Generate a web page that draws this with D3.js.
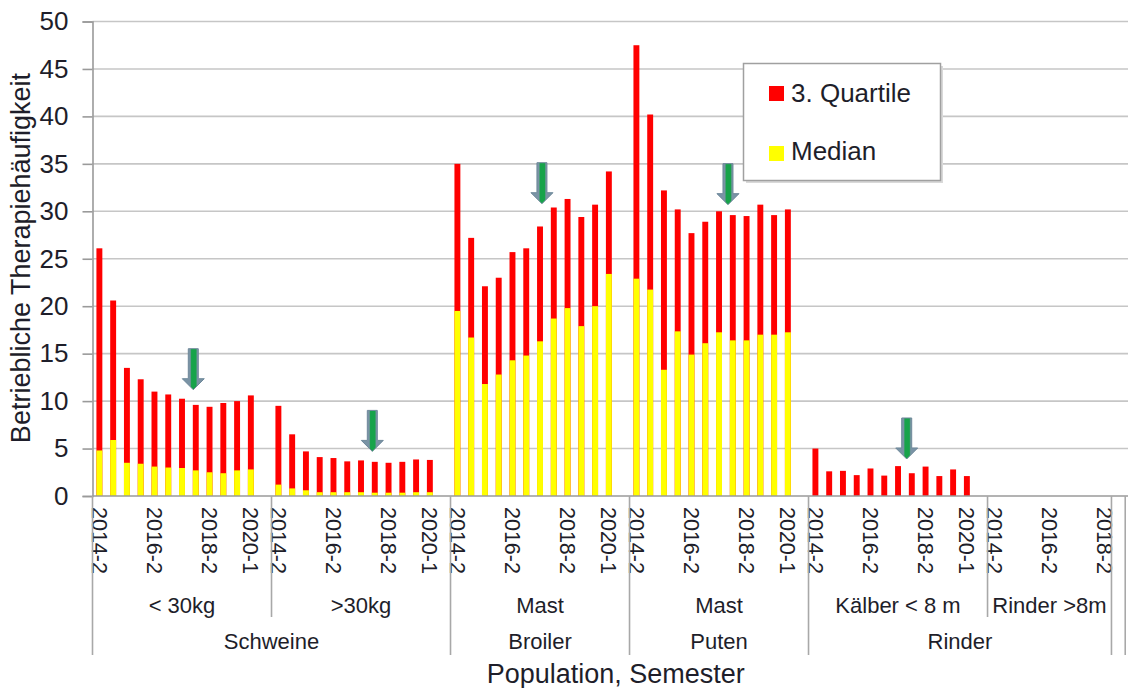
<!DOCTYPE html>
<html>
<head>
<meta charset="utf-8">
<script src="https://cdn.jsdelivr.net/npm/d3@7"></script>
<style>
  html, body { margin: 0; padding: 0; background: #fff; }
  svg { display: block; font-family: "Liberation Sans", Arial, sans-serif; }
</style>
</head>
<body>
<svg id="chart" width="1128" height="688"></svg>
<script>
// ---------------- DATA ----------------
const semesters = ["2014-2","2015-1","2015-2","2016-1","2016-2","2017-1","2017-2","2018-1","2018-2","2019-1","2019-2","2020-1"];
const shownLabels = ["2014-2","2016-2","2018-2","2020-1"];
const yTicks = [0,5,10,15,20,25,30,35,40,45,50];

const topGroups = ["Schweine","Broiler","Puten","Rinder","",""];
const subGroupNames = ["< 30kg", ">30kg", "Mast", "Mast", "Kälber < 8 m", "Rinder >8m", "", ""];
const subGroupTop = [0, 0, 1, 2, 3, 3, 4, 5];

const q3_schweineU30  = [26.1, 20.6, 13.5, 12.3, 11.0, 10.7, 10.25, 9.6, 9.4, 9.8, 10.0, 10.6];
const med_schweineU30 = [4.8, 5.9, 3.5, 3.4, 3.1, 3.0, 2.95, 2.7, 2.5, 2.4, 2.7, 2.8];
const q3_schweineO30  = [9.5, 6.5, 4.7, 4.1, 4.0, 3.65, 3.75, 3.6, 3.5, 3.6, 3.85, 3.8];
const med_schweineO30 = [1.2, 0.8, 0.6, 0.4, 0.4, 0.4, 0.4, 0.35, 0.35, 0.35, 0.4, 0.4];
const q3_broiler      = [35.0, 27.2, 22.1, 23.0, 25.7, 26.1, 28.4, 30.4, 31.3, 29.4, 30.7, 34.2];
const med_broiler     = [19.5, 16.7, 11.8, 12.8, 14.3, 14.8, 16.3, 18.7, 19.8, 17.9, 20.0, 23.4];
const q3_puten        = [47.5, 40.2, 32.2, 30.2, 27.7, 28.9, 30.0, 29.6, 29.5, 30.7, 29.6, 30.2];
const med_puten       = [22.9, 21.75, 13.3, 17.35, 14.9, 16.1, 17.25, 16.4, 16.4, 17.0, 17.0, 17.25];
const q3_kaelber      = [5.0, 2.6, 2.65, 2.2, 2.9, 2.15, 3.15, 2.4, 3.1, 2.1, 2.8, 2.1];
const med_kaelber     = [0, 0, 0, 0, 0, 0, 0, 0, 0, 0, 0, 0];

// categories per sub group ("" = empty slot)
const subGroupCats = [
  semesters.concat([""]),
  semesters.concat([""]),
  semesters.concat([""]),
  semesters.concat([""]),
  semesters.concat([""]),
  semesters.slice(0, 9),
  [""],
  [""]
];
const q3Series  = [q3_schweineU30, q3_schweineO30, q3_broiler, q3_puten, q3_kaelber, [], [], []];
const medSeries = [med_schweineU30, med_schweineO30, med_broiler, med_puten, med_kaelber, [], [], []];

// arrows: sub group, slot offset inside group, tip value
const arrowGroup  = [0, 1, 2, 3, 4];
const arrowOffset = [7.32, 7.32, 6.64, 7.15, 7.13];
const arrowTip    = [11.2, 4.7, 30.8, 30.7, 3.9];

const legendLabels = ["3. Quartile", "Median"];
const colors = { q3: "#ff0000", med: "#ffff00" };

// ---------------- LAYOUT ----------------
const svg = d3.select("#chart");
const X0 = 92.5, X1 = 1139, YTOP = 21.5, YBOT = 496;

// build slots
const slots = [];
const subStart = [];
subGroupCats.forEach((cats, gi) => {
  subStart.push(slots.length);
  cats.forEach((c, ci) => slots.push({ key: gi + ":" + ci, g: gi, ci, cat: c,
    q3: q3Series[gi][ci], med: medSeries[gi][ci] }));
});
const nSlots = slots.length;

const x = d3.scaleBand().domain(slots.map(d => d.key)).range([X0, X1])
  .paddingInner(0.57).paddingOuter(0.285);
const xSlot = d3.scaleLinear().domain([0, nSlots]).range([X0, X1]);
const y = d3.scaleLinear().domain([0, 50]).range([YBOT, YTOP]);

// grid
svg.append("g").selectAll("line").data(yTicks.filter(t => t > 0)).join("line")
  .attr("x1", X0).attr("x2", 1128).attr("y1", d => y(d)).attr("y2", d => y(d))
  .attr("stroke", "#c6c6c6").attr("stroke-width", 1.6);

// y axis
const yAxis = svg.append("g").attr("transform", `translate(${X0},0)`)
  .call(d3.axisLeft(y).tickValues(yTicks).tickSize(10).tickPadding(14));
yAxis.select(".domain").attr("stroke", "#9a9a9a").attr("stroke-width", 1.6);
yAxis.selectAll(".tick line").attr("stroke", "#9a9a9a").attr("stroke-width", 1.6);
yAxis.selectAll(".tick text").attr("font-size", 26).attr("fill", "#1e1e2a")
  .attr("font-family", "Liberation Sans, Arial, sans-serif");

// bars
const barData = slots.filter(d => d.q3 !== undefined);
svg.append("g").selectAll("rect").data(barData).join("rect")
  .attr("x", d => x(d.key)).attr("width", x.bandwidth())
  .attr("y", d => y(d.q3)).attr("height", d => y(0) - y(d.q3))
  .attr("fill", colors.q3);
svg.append("g").selectAll("rect").data(barData.filter(d => d.med > 0)).join("rect")
  .attr("x", d => x(d.key)).attr("width", x.bandwidth())
  .attr("y", d => y(d.med)).attr("height", d => y(0) - y(d.med))
  .attr("fill", colors.med);

// x axis line
svg.append("line").attr("x1", X0).attr("x2", 1128).attr("y1", YBOT).attr("y2", YBOT)
  .attr("stroke", "#9a9a9a").attr("stroke-width", 1.6);

// category labels (rotated)
svg.append("g").selectAll("text").data(slots.filter(d => shownLabels.includes(d.cat))).join("text")
  .attr("transform", d => `translate(${x(d.key) + x.bandwidth() / 2},507) rotate(90)`)
  .attr("dy", "0.36em").attr("font-size", 21.5).attr("fill", "#1e1e2a")
  .text(d => d.cat);

// group separator lines
subStart.forEach((s, gi) => {
  const isTop = gi === 0 || subGroupTop[gi] !== subGroupTop[gi - 1];
  svg.append("line").attr("x1", xSlot(s)).attr("x2", xSlot(s))
    .attr("y1", YBOT).attr("y2", isTop ? 655 : 617)
    .attr("stroke", "#a8a8a8").attr("stroke-width", 1.6);
});

// sub group labels
subGroupNames.forEach((name, gi) => {
  const a = subStart[gi], b = a + subGroupCats[gi].length;
  svg.append("text").attr("x", (xSlot(a) + xSlot(b)) / 2).attr("y", 613)
    .attr("text-anchor", "middle").attr("font-size", 22).attr("fill", "#1e1e2a").text(name);
});
// top group labels
topGroups.forEach((name, ti) => {
  const idx = subGroupTop.map((t, i) => t === ti ? i : -1).filter(i => i >= 0);
  const a = subStart[idx[0]], last = idx[idx.length - 1];
  const b = subStart[last] + subGroupCats[last].length;
  svg.append("text").attr("x", (xSlot(a) + xSlot(b)) / 2).attr("y", 649)
    .attr("text-anchor", "middle").attr("font-size", 22).attr("fill", "#1e1e2a").text(name);
});

// axis titles
svg.append("text").attr("x", (X0 + X1) / 2).attr("y", 683).attr("text-anchor", "middle")
  .attr("font-size", 27).attr("fill", "#1e1e2a").text("Population, Semester");
svg.append("text").attr("transform", "translate(29.5,258) rotate(-90)").attr("text-anchor", "middle")
  .attr("font-size", 27).attr("fill", "#1e1e2a").text("Betriebliche Therapiehäufigkeit");

// arrows
const defs = svg.append("defs");
const grad = defs.append("linearGradient").attr("id", "arrowGrad")
  .attr("x1", "0%").attr("x2", "100%").attr("y1", "0%").attr("y2", "0%");
[[0, "#7a93a5"], [0.36, "#7a93a5"], [0.42, "#17a34a"], [0.62, "#17a34a"], [0.68, "#7a93a5"], [1, "#7a93a5"]]
  .forEach(([o, c]) => grad.append("stop").attr("offset", o).attr("stop-color", c));
const arrowPath = "M0,0 L-11,-11 L-5,-11 L-5,-41 L5,-41 L5,-11 L11,-11 Z";
svg.append("g").selectAll("path").data(arrowGroup.map((g, i) => ({ g, off: arrowOffset[i], tip: arrowTip[i] })))
  .join("path")
  .attr("transform", d => `translate(${xSlot(subStart[d.g] + d.off)},${y(d.tip)})`)
  .attr("d", arrowPath).attr("fill", "url(#arrowGrad)")
  .attr("stroke", "#6e889a").attr("stroke-width", 1);

// legend
const lg = svg.append("g");
lg.append("rect").attr("x", 746).attr("y", 66).attr("width", 197).attr("height", 117).attr("fill", "#d9d9d9");
lg.append("rect").attr("x", 743.5).attr("y", 63.5).attr("width", 197).attr("height", 117)
  .attr("fill", "#fff").attr("stroke", "#a0a0a0").attr("stroke-width", 1.5);
[[colors.q3, legendLabels[0], 86, 102], [colors.med, legendLabels[1], 146, 160]].forEach(([c, t, ry, ty]) => {
  lg.append("rect").attr("x", 769).attr("y", ry).attr("width", 15).attr("height", 15).attr("fill", c);
  lg.append("text").attr("x", 791).attr("y", ty).attr("font-size", 26).attr("fill", "#1e1e2a").text(t);
});
</script>
</body>
</html>
